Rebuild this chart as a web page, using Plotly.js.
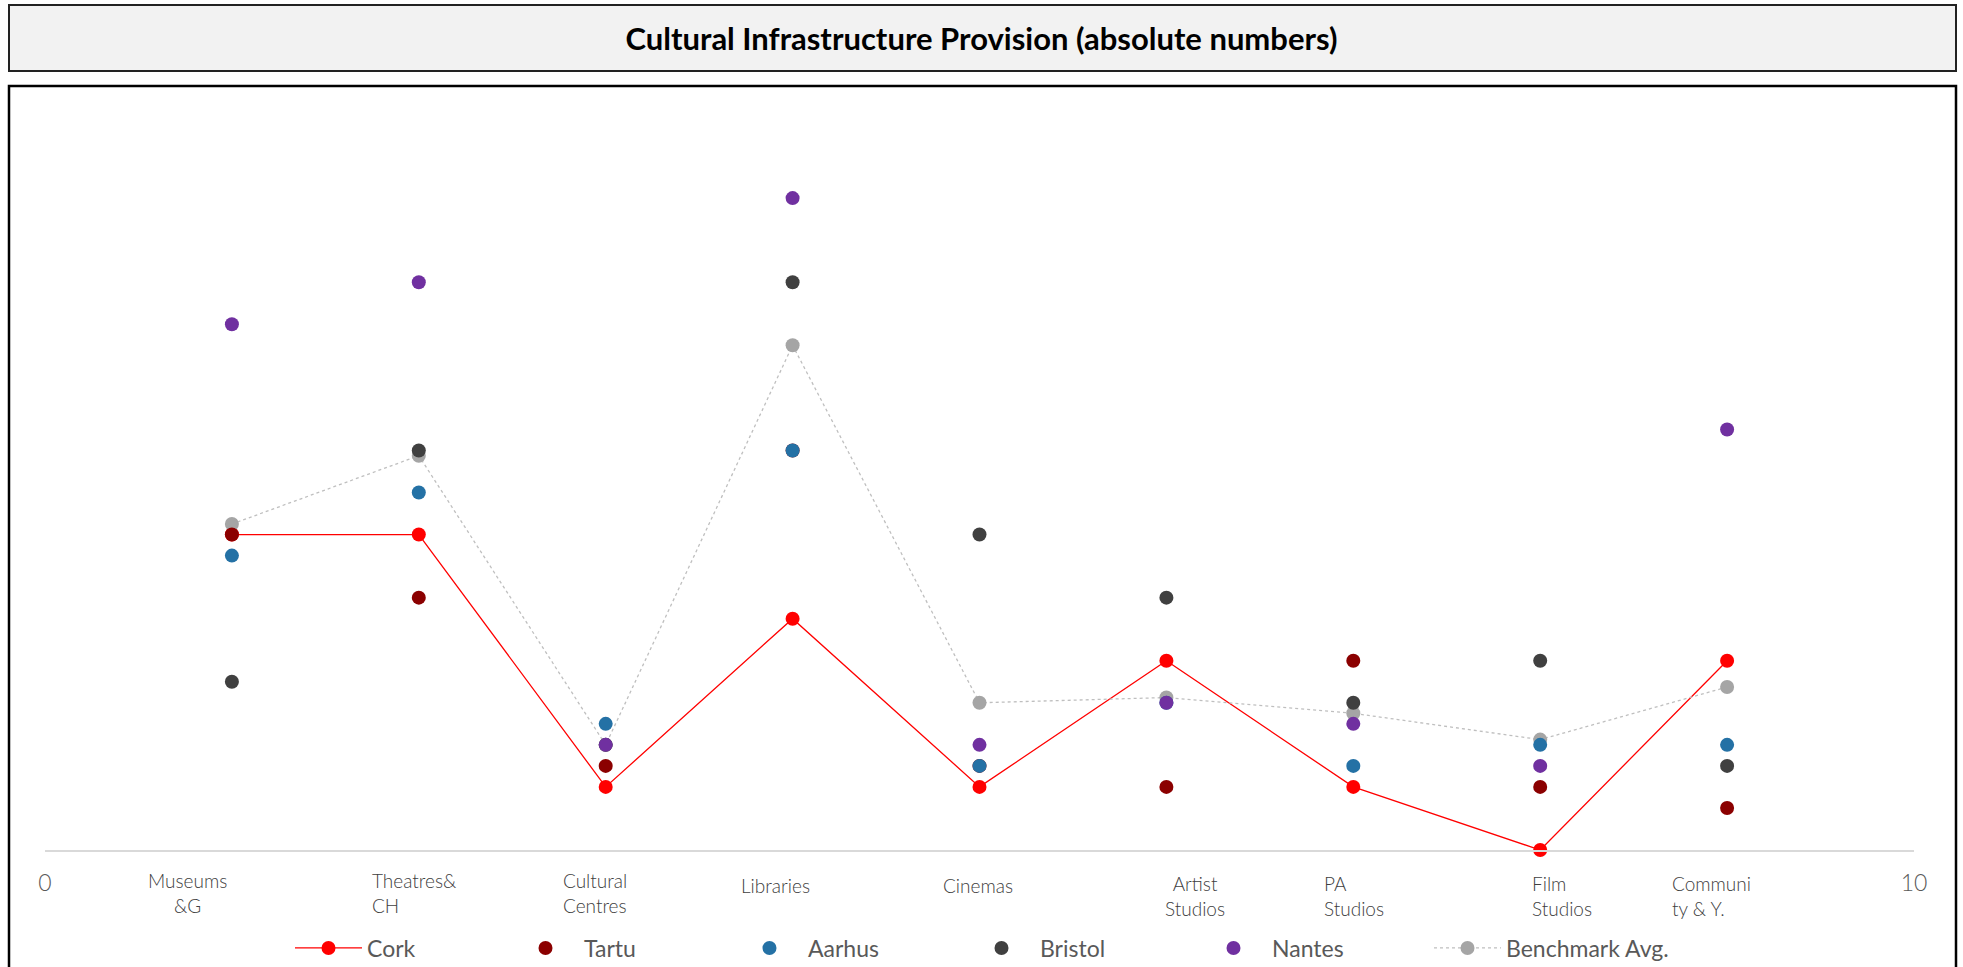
<!DOCTYPE html>
<html>
<head>
<meta charset="utf-8">
<script src="https://cdn.plot.ly/plotly-3.0.1.min.js"></script>
<style>
  html, body { margin: 0; padding: 0; background: #ffffff; }
  #chart { width: 1963px; height: 967px; }
</style>
</head>
<body>
<div id="chart"></div>
<script>
// ---------------- DATA ----------------
var categories = ["Museums<br>&G", "Theatres&<br>CH", "Cultural<br>Centres", "Libraries", "Cinemas",
                  "Artist<br>Studios", "PA<br>Studios", "Film<br>Studios", "Communi<br>ty & Y."];
var categoryX = [1, 2, 3, 4, 5, 6, 7, 8, 9];

var cork      = [15, 15, 3, 11, 3, 9, 3, 0, 9];
var tartu     = [15, 12, 4, 19, 4, 3, 9, 3, 2];
var aarhus    = [14, 17, 6, 19, 4, 7, 4, 5, 5];
var bristol   = [8, 19, 5, 27, 15, 12, 7, 9, 4];
var nantes    = [25, 27, 5, 31, 5, 7, 6, 4, 20];
var benchmark = [15.5, 18.75, 5, 24, 7, 7.25, 6.5, 5.25, 7.75];

var xTickVals = [0, 10];
var xTickText = ["0", "10"];

// ---------------- LAYOUT HELPERS ----------------
var W = 1963, H = 967;
var M = {l: 45, r: 49, t: 114, b: 117};
var PW = W - M.l - M.r, PH = H - M.t - M.b;
function px2paperX(px) { return (px - M.l) / PW; }
function px2paperY(py) { return (H - M.b - py) / PH; }

// label placement (pixel anchor x, alignment, centre y)
var labelPlacement = [
  {px: 187,  anchor: "center", py: 893},
  {px: 370,  anchor: "left",   py: 893},
  {px: 561,  anchor: "left",   py: 893},
  {px: 775,  anchor: "center", py: 885},
  {px: 978,  anchor: "center", py: 885},
  {px: 1195, anchor: "center", py: 896},
  {px: 1322, anchor: "left",   py: 896},
  {px: 1530, anchor: "left",   py: 896},
  {px: 1670, anchor: "left",   py: 896}
];

var FONT = "Lato, 'Open Sans', sans-serif";
var MS = 14;

function markerTrace(name, y, color, rank, lw) {
  return {
    type: "scatter", mode: "markers", name: name,
    x: categoryX, y: y, cliponaxis: false,
    marker: {color: color, size: MS, line: {width: 0}},
    legendrank: rank, legendwidth: lw,
    hoverinfo: "x+y+name"
  };
}

var traces = [
  {
    type: "scatter", mode: "lines+markers", name: "Cork",
    x: categoryX, y: cork, cliponaxis: false,
    line: {color: "#ff0000", width: 1.3},
    marker: {color: "#ff0000", size: MS, line: {width: 0}},
    legendrank: 1, legendwidth: 135
  },
  {
    type: "scatter", mode: "lines+markers", name: "Benchmark Avg.",
    x: categoryX, y: benchmark, cliponaxis: false,
    line: {color: "#bfbfbf", width: 1.3, dash: "dot"},
    marker: {color: "#a5a5a5", size: MS, line: {width: 0}},
    legendrank: 6, legendwidth: 170
  },
  markerTrace("Tartu", tartu, "#8b0000", 2, 142),
  markerTrace("Aarhus", aarhus, "#2471a5", 3, 150),
  markerTrace("Bristol", bristol, "#404040", 4, 150),
  markerTrace("Nantes", nantes, "#7030a0", 5, 152)
];

var annotations = categories.map(function (c, i) {
  var p = labelPlacement[i];
  return {
    text: c, showarrow: false,
    xref: "paper", yref: "paper",
    x: px2paperX(p.px), y: px2paperY(p.py),
    xanchor: p.anchor, yanchor: "middle", align: p.anchor,
    font: {family: FONT, size: 19, color: "#404040", weight: 300}
  };
});

var shapes = [
  { // title box
    type: "rect", xref: "paper", yref: "paper", layer: "below",
    x0: px2paperX(9), x1: px2paperX(1956), y0: px2paperY(71), y1: px2paperY(5),
    fillcolor: "#f2f2f2", line: {color: "#222222", width: 2}
  },
  { // chart box
    type: "rect", xref: "paper", yref: "paper", layer: "below",
    x0: px2paperX(9), x1: px2paperX(1956), y0: px2paperY(990), y1: px2paperY(86),
    fillcolor: "rgba(0,0,0,0)", line: {color: "#000000", width: 2.5}
  }
];

var layout = {
  width: W, height: H,
  margin: {l: M.l, r: M.r, t: M.t, b: M.b, autoexpand: false},
  paper_bgcolor: "#ffffff", plot_bgcolor: "rgba(0,0,0,0)",
  title: {
    text: "Cultural Infrastructure Provision (absolute numbers)",
    font: {family: FONT, size: 31, color: "#000000", weight: "bold"},
    xref: "container", x: 0.5, xanchor: "center",
    yref: "container", y: 1 - 39 / H, yanchor: "middle"
  },
  xaxis: {
    range: [0, 10], showgrid: false, zeroline: false,
    showline: true, linecolor: "#d9d9d9", linewidth: 2,
    ticks: "", tickmode: "array", tickvals: xTickVals, ticktext: xTickText,
    tickfont: {family: FONT, size: 23, color: "#595959", weight: 300},
    ticklabelstandoff: 11, fixedrange: true
  },
  yaxis: {
    range: [0, 35], visible: false, showgrid: false, zeroline: false, fixedrange: true
  },
  showlegend: true,
  legend: {
    orientation: "h", x: px2paperX(290), xanchor: "left",
    y: px2paperY(948), yanchor: "middle",
    font: {family: FONT, size: 23, color: "#595959"},
    itemwidth: 67, bgcolor: "rgba(0,0,0,0)", borderwidth: 0,
    traceorder: "normal"
  },
  annotations: annotations,
  shapes: shapes,
  hovermode: "closest"
};

Plotly.newPlot("chart", traces, layout, {displayModeBar: false, responsive: false});
</script>
</body>
</html>
